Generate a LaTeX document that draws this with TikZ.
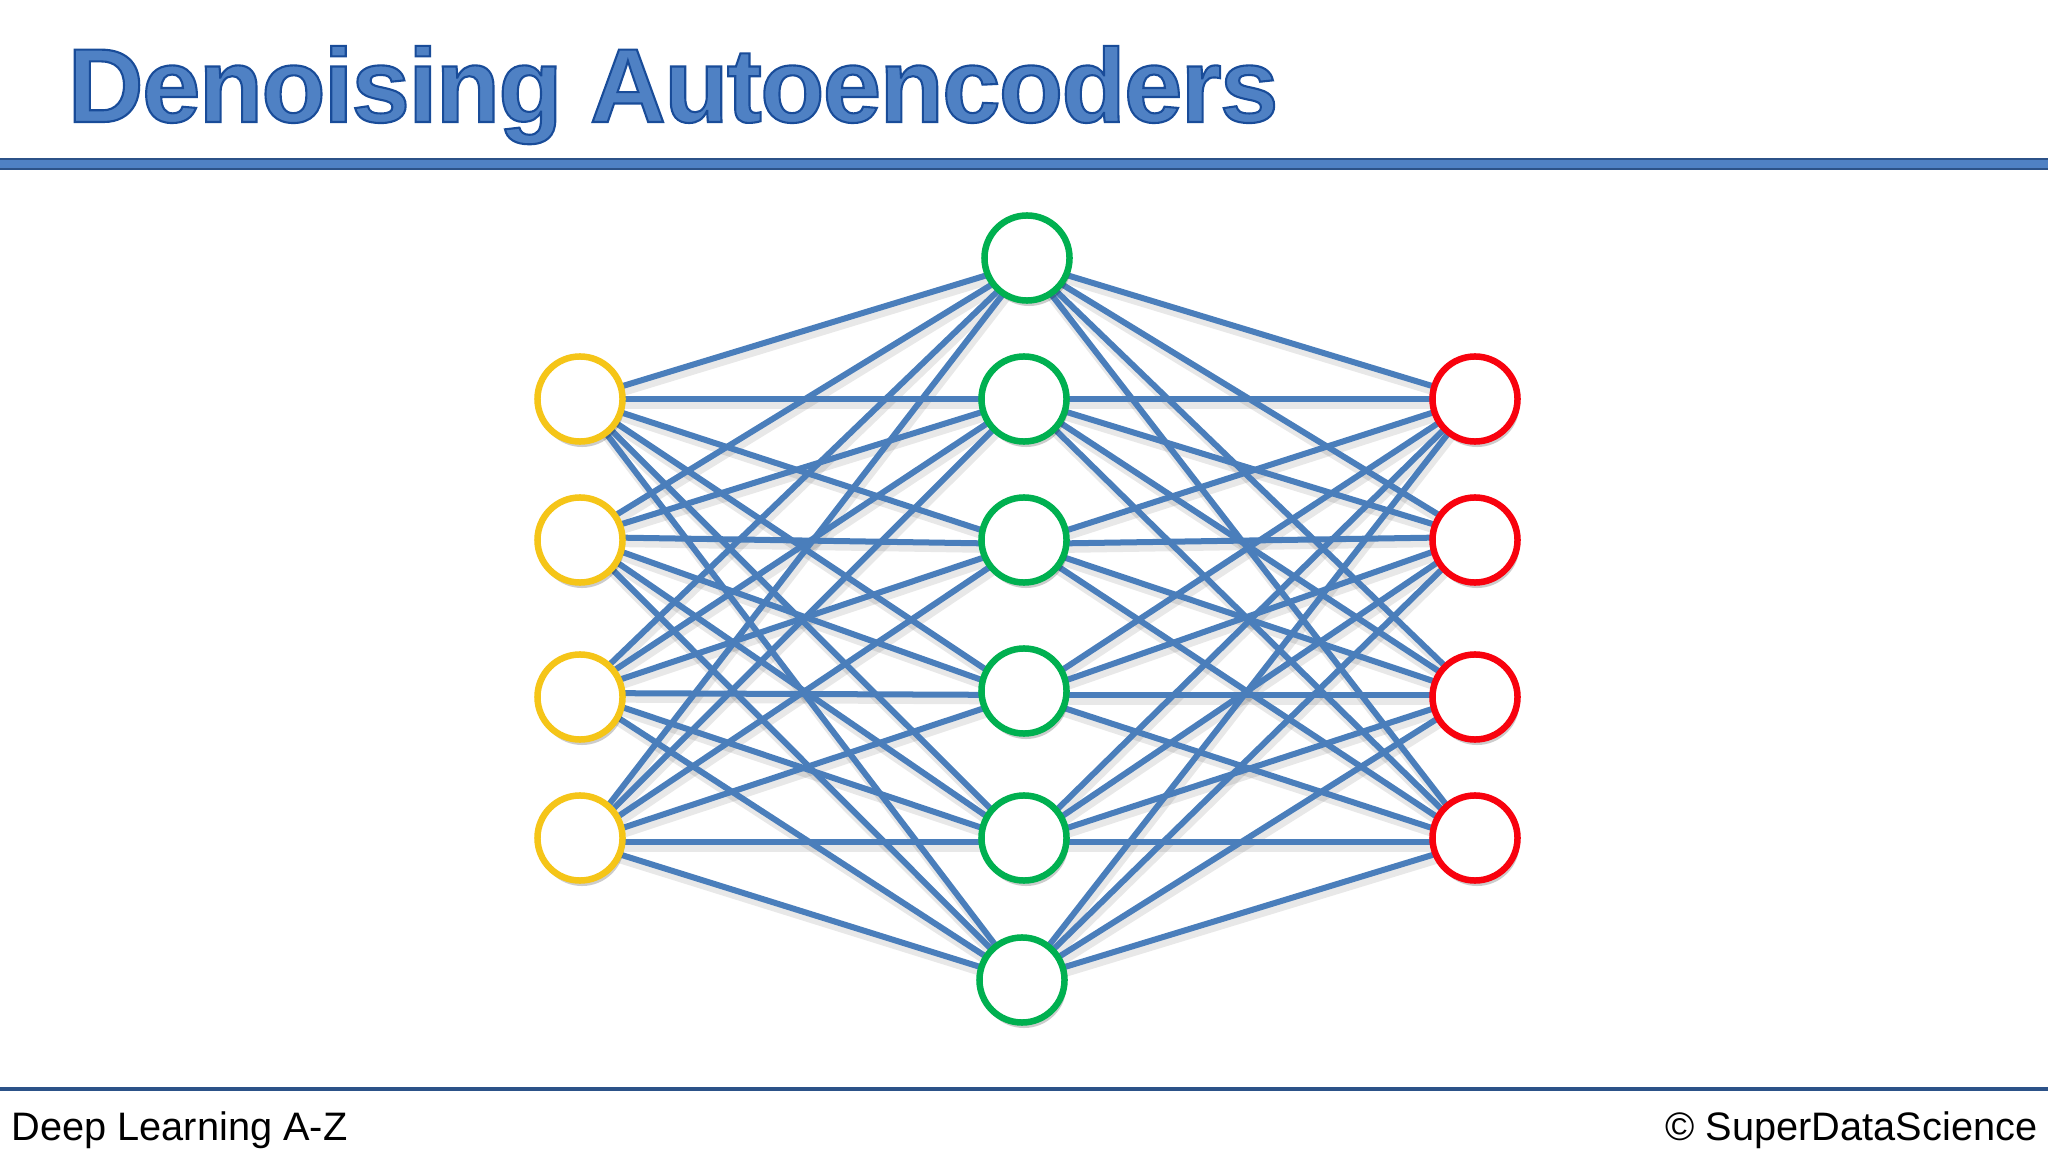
\documentclass[tikz,border=0pt]{standalone}
\usepackage{fontspec}
\setmainfont{Liberation Sans}
\newfontfamily\titlefont[FakeBold=2,LetterSpace=-1.6]{Liberation Sans Bold}
\usetikzlibrary{shadows}
\pgfdeclarelayer{background}
\pgfsetlayers{background,main}
\definecolor{linkblue}{HTML}{4A7EBB}
\definecolor{ruleblue}{HTML}{2C5288}
\definecolor{titleblue}{HTML}{4F81C4}
\definecolor{inputyellow}{HTML}{F5C518}
\definecolor{hiddengreen}{HTML}{00B050}
\definecolor{outputred}{HTML}{F8020E}
\tikzset{
  neuron/.style={circle, draw, fill=white, inner sep=0pt, minimum size=0.85cm, line width=0.065cm,
    drop shadow={shadow xshift=0.02cm, shadow yshift=-0.055cm, fill=black, opacity=0.2}},
  input/.style={neuron, draw=inputyellow},
  hidden/.style={neuron, draw=hiddengreen},
  output/.style={neuron, draw=outputred},
  link/.style={draw=linkblue, line width=0.06cm},
  linkshadow/.style={draw=black, opacity=0.09, line width=0.08cm, transform canvas={shift={(0.02cm,-0.055cm)}}},
  footer/.style={inner sep=0pt, font=\fontsize{11.3pt}{13pt}\selectfont}
}
\begin{document}
\begin{tikzpicture}[x=0.01cm, y=-0.01cm]
\useasboundingbox (0,0) rectangle (2048,1152);

\fill[titleblue, draw=ruleblue, line width=0.02cm] (-5,159) rectangle (2053,169);
\fill[ruleblue] (0,1087) rectangle (2048,1091);

\node[anchor=base west, inner sep=0pt, text=titleblue] (Title) at (67,122)
  {\fontsize{29.9pt}{32pt}\titlefont\special{pdf:code 0.10 0.30 0.60 RG}Denoising Autoencoders};

\node[footer, anchor=base west] (Course) at (11,1140) {Deep Learning A-Z};
\node[footer, anchor=base east] (Brand) at (2038,1140) {© SuperDataScience};

\node[input] (Input1) at (580,399) {};
\node[input] (Input2) at (580,540) {};
\node[input] (Input3) at (580,697) {};
\node[input] (Input4) at (580,838) {};

\node[hidden] (Hidden1) at (1027,258) {};
\node[hidden] (Hidden2) at (1024,399) {};
\node[hidden] (Hidden3) at (1024,540) {};
\node[hidden] (Hidden4) at (1024,691) {};
\node[hidden] (Hidden5) at (1024,838) {};
\node[hidden] (Hidden6) at (1022,980) {};

\node[output] (Output1) at (1475,399) {};
\node[output] (Output2) at (1475,540) {};
\node[output] (Output3) at (1475,697) {};
\node[output] (Output4) at (1475,838) {};

% where the links meet each neuron
\foreach \n/\o in {Input1/0, Input2/-3, Input3/-4, Input4/4,
    Hidden1/5, Hidden2/0, Hidden3/4, Hidden4/4, Hidden5/4, Hidden6/0,
    Output1/0, Output2/-3, Output3/-2, Output4/4}
  \path (\n.center) ++(0,\o) coordinate (\n-pin);

\begin{pgfonlayer}{background}
\foreach \i in {1,...,4}
  \foreach \h in {1,...,6} {
    \draw[linkshadow] (Input\i-pin) -- (Hidden\h-pin);
    \draw[linkshadow] (Hidden\h-pin) -- (Output\i-pin);
  }
\foreach \i in {1,...,4}
  \foreach \h in {1,...,6} {
    \draw[link] (Input\i-pin) -- (Hidden\h-pin);
    \draw[link] (Hidden\h-pin) -- (Output\i-pin);
  }
\end{pgfonlayer}
\end{tikzpicture}
\end{document}
